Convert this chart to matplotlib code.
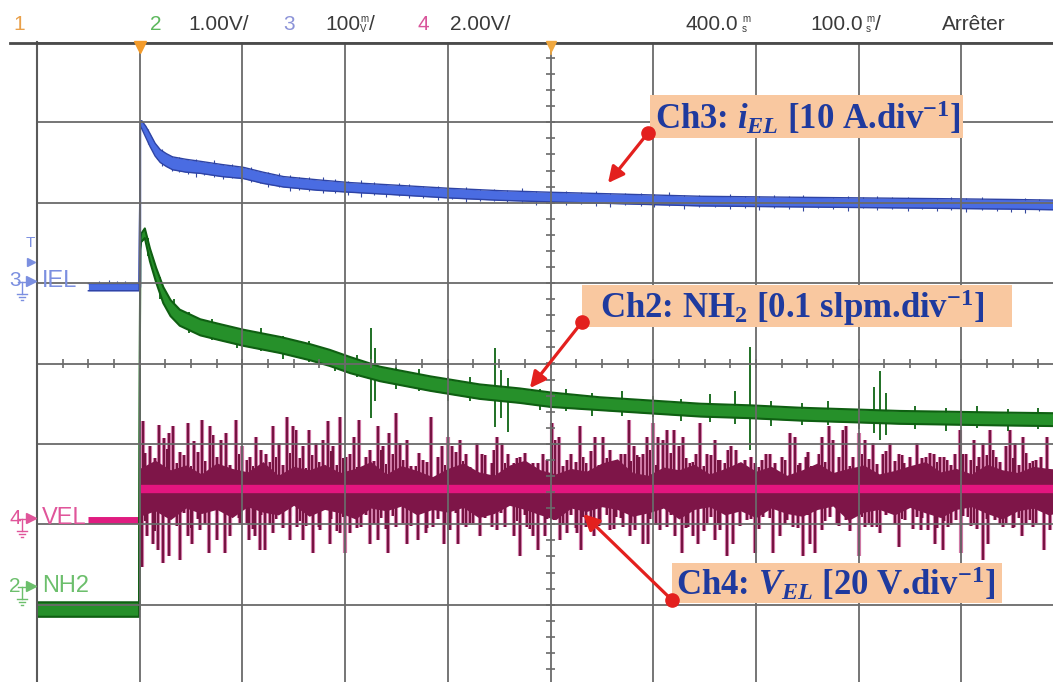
import matplotlib
matplotlib.use("Agg")
import matplotlib.pyplot as plt
from matplotlib.patches import Rectangle
import numpy as np

# ---------------- data (time in ms after trigger, amplitude in divisions) ----------------
# Ch3  i_EL (blue)
blue_t = [-50, -0.6, 0.6, 2, 6, 10, 15, 20, 26, 32, 45, 59, 80, 101, 120, 140, 173, 205,
          247, 300, 350, 400, 460, 546, 620, 700, 780, 850, 900]
blue_v = [0.95, 0.95, 2.98, 2.97, 2.88, 2.78, 2.66, 2.58, 2.53, 2.49, 2.46, 2.44, 2.40, 2.37,
          2.31, 2.26, 2.22, 2.19, 2.16, 2.12, 2.09, 2.07, 2.05, 2.02, 2.01, 2.00, 1.99, 1.98, 1.97]
blue_w = [0.045, 0.045, 0.03, 0.05, 0.07, 0.08, 0.08, 0.08, 0.08, 0.08, 0.08, 0.075, 0.075, 0.07,
          0.07, 0.065, 0.065, 0.06, 0.06, 0.06, 0.06, 0.06, 0.06, 0.06, 0.06, 0.06, 0.06, 0.06, 0.06]
blue_spk_t = [-40, -30, -22, -14, 8, 17, 22, 31, 38, 47, 55, 63, 72, 81, 90, 99, 108, 117, 125,
              136, 146, 155, 165, 178, 190, 203, 215, 228, 240, 252, 262, 276, 290, 304, 318,
              331, 345, 358, 372, 386, 400, 415, 430, 444, 458, 473, 488, 501, 515, 530, 545,
              560, 575, 589, 603, 618, 632, 646, 660, 675, 690, 704, 718, 733, 748, 762, 776,
              790, 805, 820, 835, 848, 862, 876, 890]
blue_spk_up = [0.08, 0.09, 0.07, 0.08, 0.09, 0.08, 0.10, 0.09, 0.09, 0.08, 0.10, 0.08, 0.11,
               0.08, 0.09, 0.09, 0.10, 0.08, 0.09, 0.10, 0.09, 0.08, 0.09, 0.10, 0.09, 0.08,
               0.10, 0.08, 0.07, 0.09, 0.08, 0.07, 0.08, 0.07, 0.09, 0.07, 0.08, 0.07, 0.10,
               0.07, 0.07, 0.08, 0.07, 0.09, 0.07, 0.07, 0.08, 0.07, 0.10, 0.07, 0.08, 0.07,
               0.09, 0.07, 0.07, 0.08, 0.07, 0.09, 0.07, 0.07, 0.08, 0.07, 0.09, 0.07, 0.08,
               0.07, 0.07, 0.08, 0.07, 0.09, 0.07, 0.07, 0.08, 0.07, 0.07]
blue_spk_dn = [0.03, 0.03, 0.03, 0.03, 0.10, 0.09, 0.11, 0.10, 0.09, 0.10, 0.12, 0.09, 0.10,
               0.10, 0.08, 0.11, 0.09, 0.08, 0.10, 0.08, 0.11, 0.09, 0.08, 0.10, 0.08, 0.09,
               0.11, 0.08, 0.10, 0.07, 0.09, 0.08, 0.10, 0.07, 0.11, 0.08, 0.07, 0.09, 0.08,
               0.10, 0.07, 0.09, 0.08, 0.10, 0.11, 0.07, 0.08, 0.09, 0.07, 0.10, 0.08, 0.07,
               0.09, 0.08, 0.10, 0.07, 0.09, 0.11, 0.07, 0.08, 0.10, 0.07, 0.09, 0.08, 0.10,
               0.07, 0.09, 0.08, 0.10, 0.07, 0.08, 0.09, 0.10, 0.08, 0.07]

# Ch2  NH2 flow (green)
green_t = [-100, -0.6, 0.5, 1.3, 5, 10, 16, 23, 30, 39, 59, 78, 101, 137, 166, 185, 205, 234,
           283, 331, 370, 400, 448, 497, 546, 594, 643, 692, 740, 789, 838, 900]
green_v = [-3.06, -3.06, 1.45, 1.56, 1.62, 1.35, 1.10, 0.85, 0.69, 0.57, 0.45, 0.39, 0.32, 0.23,
           0.14, 0.07, -0.02, -0.13, -0.25, -0.35, -0.40, -0.45, -0.50, -0.54, -0.58, -0.60,
           -0.63, -0.65, -0.67, -0.68, -0.69, -0.70]
green_w = [0.09, 0.09, 0.04, 0.05, 0.06, 0.08, 0.09, 0.10, 0.10, 0.10, 0.10, 0.10, 0.10, 0.10,
           0.10, 0.10, 0.10, 0.09, 0.09, 0.09, 0.09, 0.09, 0.08, 0.08, 0.08, 0.08, 0.08, 0.08,
           0.08, 0.08, 0.08, 0.08]
green_spk_t = [8, 20, 33, 48, 70, 95, 118, 140, 165, 190, 212, 225, 229, 250, 272, 300, 322, 346,
               352, 359, 390, 415, 440, 470, 500, 527, 555, 580, 594, 615, 645, 670, 700, 715,
               721, 727, 755, 785, 815, 845, 875]
green_spk_up = [0.10, 0.12, 0.15, 0.12, 0.14, 0.10, 0.16, 0.12, 0.14, 0.10, 0.15, 0.54, 0.30,
                0.12, 0.15, 0.12, 0.16, 0.56, 0.30, 0.21, 0.12, 0.15, 0.12, 0.18, 0.14, 0.12,
                0.20, 0.25, 0.81, 0.15, 0.14, 0.18, 0.20, 0.37, 0.57, 0.30, 0.14, 0.12, 0.16,
                0.12, 0.14]
green_spk_dn = [0.12, 0.15, 0.10, 0.14, 0.12, 0.15, 0.12, 0.16, 0.12, 0.14, 0.12, 0.58, 0.35,
                0.15, 0.12, 0.18, 0.14, 0.42, 0.30, 0.47, 0.15, 0.12, 0.16, 0.14, 0.12, 0.15,
                0.14, 0.16, 0.48, 0.16, 0.14, 0.12, 0.16, 0.20, 0.29, 0.22, 0.14, 0.16, 0.12,
                0.15, 0.12]

# Ch4  V_EL (pink): mean level before / after the trigger and noise spikes (offsets from mean)
vel_pre_t = [-50, 0.4]
vel_pre_v = [-1.95, -1.95]
vel_post_t = [0.4, 900]
vel_post_v = [-1.56, -1.56]
vel_up_t = [3, 10, 19, 24, 29, 32, 39, 47, 53, 61, 68, 71, 79, 84, 94, 100, 107, 113, 123, 130,
            136, 143, 149, 152, 159, 165, 172, 178, 183, 188, 195, 201, 209, 214, 224, 232, 237,
            243, 250, 253, 260, 269, 276, 284,
            294, 300, 304, 312, 318, 328, 333, 343, 348, 353, 359, 364, 370, 383, 388, 393, 401,
            404, 408, 416, 429, 435, 443, 451, 458, 466, 473, 476, 481, 486, 490, 494, 500, 505,
            510, 513, 520, 525, 529, 536, 542, 546, 552, 560, 565, 570, 576, 581,
            589, 599, 606, 610, 619, 625, 633, 638, 643, 649, 654, 661, 664, 671, 675, 685, 688,
            695, 700, 706, 714, 724, 731, 739, 744, 750, 757, 766, 773, 779, 786, 794, 799, 805,
            812, 817, 821, 828, 834, 844, 847, 852, 860, 867, 873, 878, 883]
vel_up_h = [0.84, 0.53, 0.80, 0.63, 0.69, 0.78, 0.46, 0.82, 0.59, 0.86, 0.78, 0.67, 0.61, 0.69,
            0.86, 0.53, 0.40, 0.65, 0.44, 0.78, 0.57, 0.90, 0.78, 0.73, 0.53, 0.73, 0.57, 0.61,
            0.84, 0.53, 0.90, 0.40, 0.65, 0.86, 0.48, 0.78, 0.53, 0.69, 0.94, 0.57, 0.61, 0.28,
            0.36, 0.90,
            0.53, 0.65, 0.53, 0.61, 0.44, 0.57, 0.44, 0.32, 0.65, 0.57, 0.44, 0.32, 0.40, 0.32,
            0.32, 0.44, 0.82, 0.61, 0.65, 0.36, 0.78, 0.32, 0.65, 0.65, 0.49, 0.32, 0.44, 0.86,
            0.53, 0.40, 0.44, 0.65, 0.82, 0.65, 0.61, 0.73, 0.73, 0.53, 0.65, 0.32, 0.44, 0.82,
            0.44, 0.61, 0.36, 0.32, 0.53, 0.49,
            0.36, 0.32, 0.36, 0.44, 0.32, 0.40, 0.69, 0.65, 0.32, 0.40, 0.28, 0.44, 0.65, 0.78,
            0.61, 0.73, 0.78, 0.40, 0.69, 0.61, 0.57, 0.44, 0.57, 0.44, 0.32, 0.40, 0.57, 0.40,
            0.44, 0.40, 0.36, 0.44, 0.73, 0.44, 0.61, 0.40, 0.57, 0.73, 0.40, 0.53, 0.73, 0.57,
            0.65, 0.32, 0.36, 0.40, 0.65]
vel_dn_t = [2, 7, 13, 18, 23, 29, 39, 47, 51, 59, 67, 75, 83, 88, 98, 106, 112, 117, 122, 130,
            140, 146, 153, 159, 169, 176, 185, 195, 200, 205, 215, 224, 232, 242, 250, 260, 271,
            279, 286,
            296, 302, 310, 318, 325, 331, 343, 348, 352, 364, 370, 377, 383, 388, 395, 403, 409,
            416, 426, 430, 435, 442, 448, 458, 464, 471, 477, 482, 490, 495, 507, 513, 521, 528,
            534, 539, 544, 552, 560, 565, 572, 578,
            591, 599, 607, 617, 623, 630, 636, 646, 653, 658, 664, 672, 679, 688, 700, 706, 713,
            721, 731, 739, 745, 757, 761, 768, 774, 782, 787, 795, 800, 807, 812, 821, 826, 833,
            841, 844, 851, 859, 867, 873, 881, 886]
vel_dn_h = [0.97, 0.59, 0.68, 0.76, 0.92, 0.84, 0.88, 0.59, 0.68, 0.51, 0.80, 0.63, 0.80, 0.59,
            0.43, 0.63, 0.59, 0.76, 0.76, 0.55, 0.47, 0.63, 0.47, 0.63, 0.80, 0.51, 0.68, 0.55,
            0.80, 0.55, 0.47, 0.68, 0.63, 0.80, 0.47, 0.68, 0.63, 0.55, 0.47,
            0.68, 0.51, 0.68, 0.47, 0.43, 0.59, 0.47, 0.51, 0.30, 0.59, 0.84, 0.47, 0.59, 0.76,
            0.59, 0.39, 0.63, 0.55, 0.55, 0.76, 0.47, 0.59, 0.43, 0.51, 0.35, 0.47, 0.59, 0.51,
            0.68, 0.68, 0.51, 0.47, 0.59, 0.80, 0.47, 0.59, 0.68, 0.43, 0.63, 0.51, 0.84, 0.68,
            0.39, 0.80, 0.35, 0.80, 0.59, 0.39, 0.47, 0.84, 0.68, 0.80, 0.51, 0.35, 0.43, 0.39,
            0.84, 0.47, 0.47, 0.55, 0.26, 0.72, 0.39, 0.35, 0.51, 0.51, 0.68, 0.76, 0.47, 0.39,
            0.80, 0.35, 0.43, 0.88, 0.68, 0.39, 0.47, 0.43, 0.47, 0.59, 0.39, 0.43, 0.76, 0.51]
# medium-height spikes filling the noise band
vel_mid_t = [5, 15, 27, 36, 43, 50, 57, 64, 75, 88,
             97, 104, 110, 118, 127, 133, 140, 146, 156, 162,
             168, 175, 186, 192, 198, 205, 212, 220, 228, 235,
             240, 247, 256, 264, 272, 280, 290, 297, 308, 315,
             322, 336, 345, 356, 367, 375, 380, 397, 412, 420,
             425, 432, 439, 447, 455, 462, 469, 478, 484, 497,
             503, 517, 532, 539, 549, 556, 563, 573, 585, 595,
             603, 614, 628, 641, 651, 667, 681, 692, 703, 710,
             718, 727, 735, 742, 753, 762, 770, 776, 783, 790,
             802, 809, 815, 825, 831, 838, 850, 856, 863, 870]
vel_mid_up = [0.45, 0.38, 0.50, 0.32, 0.42, 0.28, 0.46, 0.35, 0.40, 0.30,
              0.44, 0.36, 0.28, 0.48, 0.33, 0.40, 0.30, 0.45, 0.38, 0.26,
              0.42, 0.34, 0.47, 0.30, 0.38, 0.44, 0.27, 0.40, 0.35, 0.48,
              0.31, 0.43, 0.36, 0.28, 0.45, 0.33, 0.40, 0.30, 0.46, 0.35,
              0.27, 0.42, 0.48, 0.32, 0.38, 0.45, 0.30, 0.36, 0.28, 0.44,
              0.33, 0.40, 0.47, 0.30, 0.38, 0.26, 0.44, 0.35, 0.42, 0.48,
              0.30, 0.45, 0.38, 0.34, 0.28, 0.42, 0.36, 0.48, 0.32, 0.40,
              0.27, 0.44, 0.36, 0.30, 0.46, 0.34, 0.40, 0.28, 0.43, 0.37,
              0.31, 0.47, 0.35, 0.42, 0.28, 0.38, 0.45, 0.33, 0.40, 0.30,
              0.44, 0.36, 0.29, 0.42, 0.48, 0.34, 0.38, 0.30, 0.45, 0.35]
vel_mid_dn = [0.40, 0.52, 0.35, 0.46, 0.30, 0.48, 0.38, 0.44, 0.33, 0.50,
              0.36, 0.42, 0.50, 0.32, 0.45, 0.38, 0.48, 0.34, 0.40, 0.46,
              0.30, 0.47, 0.38, 0.52, 0.35, 0.42, 0.48, 0.33, 0.44, 0.36,
              0.50, 0.34, 0.42, 0.46, 0.31, 0.48, 0.37, 0.44, 0.30, 0.45,
              0.42, 0.36, 0.30, 0.47, 0.40, 0.33, 0.50, 0.38, 0.45, 0.32,
              0.48, 0.35, 0.40, 0.46, 0.32, 0.50, 0.36, 0.43, 0.30, 0.38,
              0.45, 0.33, 0.48, 0.40, 0.52, 0.35, 0.42, 0.30, 0.46, 0.38,
              0.50, 0.36, 0.44, 0.48, 0.33, 0.40, 0.46, 0.52, 0.35, 0.42,
              0.47, 0.32, 0.44, 0.38, 0.50, 0.36, 0.30, 0.48, 0.40, 0.45,
              0.34, 0.46, 0.50, 0.38, 0.32, 0.44, 0.48, 0.36, 0.42, 0.47]
vel_body_t = [0, 15, 30, 45, 60, 75, 90, 105, 120, 135, 150, 165, 180, 195, 210, 225, 240, 255,
              270, 285, 300, 315, 330, 345, 360, 375, 390, 405, 420, 435, 450, 465, 480, 495,
              510, 525, 540, 555, 570, 585, 600, 615, 630, 645, 660, 675, 690, 705, 720, 735,
              750, 765, 780, 795, 810, 825, 840, 855, 870, 885, 900]
vel_body_hi = [0.30, 0.42, 0.28, 0.35, 0.22, 0.38, 0.30, 0.25, 0.40, 0.20, 0.33, 0.28, 0.36, 0.24,
               0.30, 0.40, 0.22, 0.34, 0.27, 0.18, 0.30, 0.38, 0.25, 0.20, 0.35, 0.42, 0.28, 0.22,
               0.30, 0.26, 0.38, 0.44, 0.24, 0.20, 0.32, 0.28, 0.36, 0.22, 0.30, 0.40, 0.26, 0.33,
               0.20, 0.28, 0.38, 0.24, 0.30, 0.35, 0.22, 0.27, 0.34, 0.40, 0.25, 0.30, 0.22, 0.36,
               0.28, 0.24, 0.33, 0.30, 0.28]
vel_body_lo = [0.40, 0.32, 0.45, 0.28, 0.36, 0.30, 0.42, 0.26, 0.34, 0.38, 0.24, 0.40, 0.30, 0.35,
               0.44, 0.28, 0.32, 0.25, 0.38, 0.30, 0.34, 0.27, 0.42, 0.36, 0.24, 0.30, 0.38, 0.45,
               0.28, 0.33, 0.26, 0.30, 0.40, 0.35, 0.28, 0.44, 0.30, 0.26, 0.38, 0.32, 0.42, 0.28,
               0.36, 0.40, 0.30, 0.25, 0.46, 0.34, 0.30, 0.38, 0.27, 0.35, 0.42, 0.30, 0.26, 0.36,
               0.44, 0.32, 0.28, 0.38, 0.33]

# screen settings / labels
x_div = [-100, 0, 100, 200, 300, 400, 500, 600, 700, 800, 900]   # 100 ms/div, 400 ms delay
y_div = [-4, -3, -2, -1, 0, 1, 2, 3, 4]
header_items = [("1", "#E9A04A"), ("2", "#5DB85D"), ("1.00V/", "#3a3a3a"), ("3", "#8C93D8"),
                ("100", "#3a3a3a"), ("4", "#D9559B"), ("2.00V/", "#3a3a3a"),
                ("400.0", "#3a3a3a"), ("100.0", "#3a3a3a"), ("Arrêter", "#3a3a3a")]
ann_ch3 = r"Ch3: $i_{EL}$ [10 A.div$^{-1}$]"
ann_ch2 = r"Ch2: NH$_2$ [0.1 slpm.div$^{-1}$]"
ann_ch4 = r"Ch4: $V_{EL}$ [20 V.div$^{-1}$]"

# ---------------- styling ----------------
plt.rcParams['mathtext.fontset'] = 'custom'
plt.rcParams['mathtext.rm'] = 'Liberation Serif:bold'
plt.rcParams['mathtext.it'] = 'Liberation Serif:bold:italic'
plt.rcParams['mathtext.bf'] = 'Liberation Serif:bold'
HEADF = 'Liberation Sans'
HEADS = 15

W, H = 1053, 682
fig = plt.figure(figsize=(W / 100, H / 100), dpi=100)
fig.patch.set_facecolor('white')


def FX(x):
    return x / W


def FY(y):
    return 1 - y / H


ax = fig.add_axes([FX(37), FY(685.1), FX(1064) - FX(37), FY(41.9) - FY(685.1)])
ax.set_xlim(x_div[0], x_div[-1])
ax.set_ylim(y_div[0], y_div[-1])
ax.set_xticks([])
ax.set_yticks([])
ax.set_facecolor('white')
for s in ('right', 'bottom', 'top'):
    ax.spines[s].set_visible(False)
ax.spines['left'].set_color('#5a5a5a')
ax.spines['left'].set_linewidth(1.5)
ax.spines['left'].set_zorder(6)

# graticule
GRID = '#6a6a6a'
for x in x_div:
    ax.axvline(x, color=GRID, lw=1.3, zorder=5)
for y in y_div:
    ax.axhline(y, color=GRID, lw=1.3, zorder=5)
minor_x = np.arange(x_div[0], x_div[-1] + 0.1, 25.0)
minor_y = np.arange(y_div[0], y_div[-1] + 0.01, 0.2)
ax.vlines(minor_x, -0.05, 0.05, color=GRID, lw=1.2, zorder=5)
ax.hlines(minor_y, 400 - 4.5, 400 + 4.5, color=GRID, lw=1.2, zorder=5)

# ---- Ch4 (pink) ----
c4 = vel_post_v[0]
HALO, CORE = '#CF79A6', '#741240'
spk_sets = [(vel_up_t, np.zeros(len(vel_up_h)), np.array(vel_up_h)),
            (vel_dn_t, -np.array(vel_dn_h), np.zeros(len(vel_dn_h))),
            (vel_mid_t, -np.array(vel_mid_dn), np.array(vel_mid_up))]
for ts, lo, hi in spk_sets:
    ax.vlines(ts, c4 + lo, c4 + hi, color=HALO, lw=3.0, zorder=2)
for ts, lo, hi in spk_sets:
    ax.vlines(ts, c4 + lo, c4 + hi, color=CORE, lw=1.4, zorder=2.2)
ax.fill_between(vel_body_t, c4 - 0.85 * np.array(vel_body_lo), c4 + 0.85 * np.array(vel_body_hi),
                color='#7E1548', lw=0, zorder=2.4)
ax.plot(vel_pre_t, vel_pre_v, color='#E01C80', lw=5.0, zorder=3, solid_capstyle='butt')
ax.plot(vel_post_t, vel_post_v, color='#E3157F', lw=6.0, zorder=3, solid_capstyle='butt')
ax.vlines(vel_post_t[0], vel_pre_v[-1], vel_post_v[0], color='#B01060', lw=1.2, zorder=3)

# ---- Ch2 (green) ----
gt, gv, gw = np.array(green_t), np.array(green_v), np.array(green_w)
gbase = np.interp(green_spk_t, gt, gv)
ax.vlines(green_spk_t, gbase - np.array(green_spk_dn), gbase + np.array(green_spk_up),
          color='#0E6414', lw=1.3, zorder=3.5)
ax.fill_between(gt, gv - gw, gv + gw, color='#26902A', lw=0, zorder=4)
ax.plot(gt, gv + gw, color='#0F5F12', lw=1.5, zorder=4.1)
ax.plot(gt, gv - gw, color='#0F5F12', lw=1.5, zorder=4.1)
ax.vlines(0.5, green_v[0], green_v[4], color='#146A16', lw=1.2, zorder=4.1)

# ---- Ch3 (blue) ----
bl_t, bl_v, bl_w = np.array(blue_t), np.array(blue_v), np.array(blue_w)
bbase = np.interp(blue_spk_t, bl_t, bl_v)
ax.vlines(blue_spk_t, bbase - np.array(blue_spk_dn), bbase + np.array(blue_spk_up),
          color='#34489E', lw=0.8, zorder=3.5)
ax.fill_between(bl_t, bl_v - bl_w, bl_v + bl_w, color='#4A6CE2', lw=0, zorder=4)
ax.plot(bl_t, bl_v + bl_w, color='#2E43A4', lw=1.0, zorder=4.1)
ax.plot(bl_t, bl_v - bl_w, color='#2E43A4', lw=1.0, zorder=4.1)
ax.vlines(0.6, blue_v[0], blue_v[2], color='#2C3F9E', lw=1.0, zorder=4.1)

# ---- annotations ----
RED = '#E3201E'
PEACH = '#F9C8A0'
NAVY = '#1F3A9E'
boxes = [((496.9, 2.805), 304.8, 0.535, (501.8, 2.917), ann_ch3, (494.9, 2.867), (456.0, 2.245)),
         ((430.7, 0.454), 418.7, 0.522, (448.2, 0.562), ann_ch2, (430.7, 0.516), (380.0, -0.305)),
         ((518.3, -2.979), 321.3, 0.498, (522.2, -2.879), ann_ch4, (518.3, -2.942), (431.9, -1.872))]
for (xy, w, h, txy, txt, dot, tip) in boxes:
    ax.add_patch(Rectangle(xy, w, h, facecolor=PEACH, edgecolor='none', zorder=7))
    ax.text(txy[0], txy[1], txt, fontsize=25, fontfamily='Liberation Serif', fontweight='bold',
            color=NAVY, ha='left', va='baseline', zorder=8)
    ax.annotate('', xy=tip, xytext=dot,
                arrowprops=dict(arrowstyle='-|>', color=RED, lw=2.3, mutation_scale=24,
                                shrinkA=0, shrinkB=0), zorder=8)
    ax.plot([dot[0]], [dot[1]], 'o', ms=9.5, color=RED, zorder=9, clip_on=False)

# ---------------- overlay (screen decorations in pixel coordinates) ----------------
ov = fig.add_axes([0, 0, 1, 1], zorder=10)
ov.set_xlim(0, W)
ov.set_ylim(H, 0)
ov.axis('off')
ov.patch.set_alpha(0)

ov.plot([10, W], [43, 43], color='#4a4a4a', lw=2.0)
# trigger markers
ov.plot([140], [47], marker='v', ms=9, color='#F39B2B', mec='#F39B2B')
ov.plot([551], [46], marker='v', ms=7, color='#F0A840', mec='#F0A840')
ov.plot([551, 551], [46, 54], color='#F0A840', lw=1.2)

# header
hx = [13, 150, 188, 283, 325, 418, 450, 685, 810, 942]
for (txt, col), x in zip(header_items, hx):
    ov.text(x, 24, txt, color=col, fontsize=HEADS, fontfamily=HEADF, ha='left', va='center')
for x, top, bot, slash in [(360, 'm', 'V', True), (742, 'm', 's', False), (866, 'm', 's', True)]:
    ov.text(x, 19, top, color='#3a3a3a', fontsize=7, fontfamily=HEADF, ha='left', va='center')
    ov.text(x, 29, bot, color='#3a3a3a', fontsize=7, fontfamily=HEADF, ha='left', va='center')
    if slash:
        ov.text(x + 9, 24, '/', color='#3a3a3a', fontsize=HEADS, fontfamily=HEADF,
                ha='left', va='center')

# left channel markers
markers = [('3', 'IEL', 281, '#7B8FE0'), ('4', 'VEL', 518, '#E0559A'), ('2', 'NH2', 586, '#6CBF6C')]
for num, lab, y, col in markers:
    ov.text(9, y, num, color=col, fontsize=15, fontfamily=HEADF, ha='left', va='center')
    ov.plot([18, 28], [y + 1, y + 1], color=col, lw=1.0)
    ov.plot([22, 22], [y + 1, y + 13], color=col, lw=1.0)
    ov.plot([17, 27], [y + 13, y + 13], color=col, lw=1.0)
    ov.plot([19, 25], [y + 16, y + 16], color=col, lw=1.0)
    ov.plot([21, 23], [y + 19, y + 19], color=col, lw=1.0)
    ov.plot([31], [y], marker='>', ms=7, color=col, mec=col)
    ov.text(42, y, lab, color=col, fontsize=17, fontfamily=HEADF, ha='left', va='center')
ov.text(26, 243, 'T', color='#7B8FE0', fontsize=11, fontfamily=HEADF, ha='left', va='center')
ov.plot([31], [262], marker='>', ms=6, color='#7B8FE0', mec='#7B8FE0')

fig.savefig('out.png', dpi=100, facecolor='white')
